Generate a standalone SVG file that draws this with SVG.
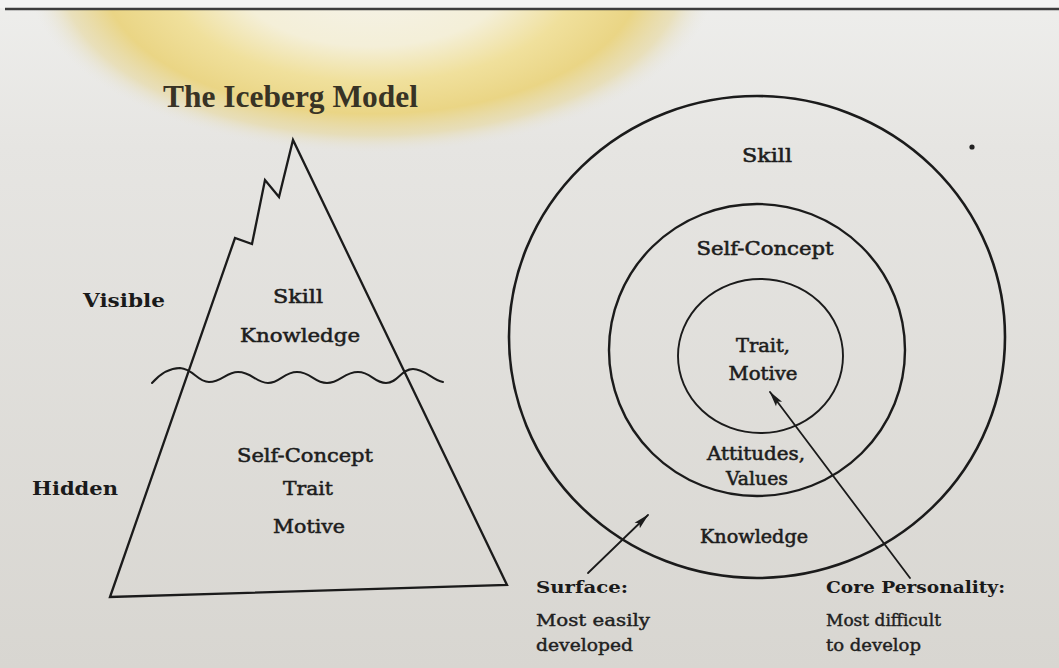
<svg xmlns="http://www.w3.org/2000/svg" width="1059" height="668" viewBox="0 0 1059 668">
<defs>
<linearGradient id="bg" x1="0" y1="0" x2="0" y2="1">
<stop offset="0" stop-color="#eeeeec"/>
<stop offset="0.22" stop-color="#e6e5e2"/>
<stop offset="1" stop-color="#d8d6d1"/>
</linearGradient>
<radialGradient id="glow" cx="0.5" cy="0.5" r="0.5">
<stop offset="0" stop-color="#f5f3ec"/>
<stop offset="0.4" stop-color="#f4efd8"/>
<stop offset="0.6" stop-color="#f0e09c"/>
<stop offset="0.78" stop-color="#ead585"/>
<stop offset="0.9" stop-color="#e7d9a2" stop-opacity="0.65"/>
<stop offset="1" stop-color="#e6e4dc" stop-opacity="0"/>
</radialGradient>
<marker id="ah" markerUnits="userSpaceOnUse" markerWidth="16" markerHeight="10" refX="15" refY="5" orient="auto">
<path d="M0,1.2 L16,5 L0,8.8 L3,5 z" fill="#1b1b1b"/>
</marker>
<style>
.ln{fill:none;stroke:#1b1b1b;stroke-linejoin:miter;stroke-linecap:round}
.t{font-family:"DejaVu Serif","Liberation Serif",serif;fill:#1d1d1d;stroke:#1d1d1d;stroke-width:0.55;text-anchor:middle}
.b{font-family:"DejaVu Serif","Liberation Serif",serif;fill:#1a1a1a;font-weight:bold}
.n{font-family:"DejaVu Serif","Liberation Serif",serif;fill:#202020;stroke:#202020;stroke-width:0.4}
</style>
</defs>
<rect width="1059" height="668" fill="url(#bg)"/>
<ellipse cx="372" cy="-25" rx="345" ry="178" fill="url(#glow)"/>
<rect x="0" y="0" width="1059" height="8" fill="#f3f3f2"/>
<line x1="5" y1="9" x2="1059" y2="9" stroke="#3c3c3c" stroke-width="2.5"/>
<circle cx="972" cy="147" r="2.6" fill="#222"/>

<g id="title">
<text x="163" y="107" font-family="Liberation Serif, serif" font-weight="bold" font-size="31" fill="#383325" textLength="255" lengthAdjust="spacingAndGlyphs">The Iceberg Model</text>
</g>

<g id="iceberg">
<path class="ln" stroke-width="2.3" d="M110,597 L235,238 L252,244 L265,180 L279,197 L293,140 L507,585 Z"/>
<text class="t" x="298" y="303" font-size="19" textLength="50" lengthAdjust="spacingAndGlyphs">Skill</text>
<text class="t" x="300" y="342" font-size="19" textLength="120" lengthAdjust="spacingAndGlyphs">Knowledge</text>
<text class="t" x="305" y="462" font-size="19" textLength="136" lengthAdjust="spacingAndGlyphs">Self-Concept</text>
<text class="t" x="308" y="495" font-size="19" textLength="50" lengthAdjust="spacingAndGlyphs">Trait</text>
<text class="t" x="309" y="533" font-size="19" textLength="72" lengthAdjust="spacingAndGlyphs">Motive</text>
</g>

<g id="waterline">
<path class="ln" stroke-width="2" d="M152,383 C160,374 170,368 180,368 C194,369 197,382 209,382 C222,382 226,372 238,372 C252,372 256,383 268,383 C280,383 284,372 297,372 C311,372 314,383 327,383 C340,383 344,372 358,372 C371,372 374,383 386,383 C398,383 401,369 413,369 C425,369 432,380 443,382"/>
</g>

<g id="visible-label">
<text class="b" x="83" y="307" font-size="18" textLength="82" lengthAdjust="spacingAndGlyphs">Visible</text>
</g>
<g id="hidden-label">
<text class="b" x="32" y="495" font-size="18" textLength="86" lengthAdjust="spacingAndGlyphs">Hidden</text>
</g>

<g id="outer-ring">
<ellipse class="ln" stroke-width="2.6" cx="757" cy="337" rx="248" ry="241"/>
<text class="t" x="767" y="162" font-size="19" textLength="50" lengthAdjust="spacingAndGlyphs" stroke-width="0.9">Skill</text>
<text class="t" x="754" y="543" font-size="18" textLength="108" lengthAdjust="spacingAndGlyphs">Knowledge</text>
</g>

<g id="middle-ring">
<ellipse class="ln" stroke-width="2.4" cx="757" cy="350" rx="148" ry="146"/>
<text class="t" x="765" y="255" font-size="18" textLength="137" lengthAdjust="spacingAndGlyphs">Self-Concept</text>
<text class="t" x="756" y="460" font-size="18" textLength="98" lengthAdjust="spacingAndGlyphs">Attitudes,</text>
<text class="t" x="757" y="485" font-size="18" textLength="62" lengthAdjust="spacingAndGlyphs">Values</text>
</g>

<g id="inner-ring">
<ellipse class="ln" stroke-width="1.9" cx="760.5" cy="356" rx="82.5" ry="77"/>
<text class="t" x="763" y="352" font-size="18" textLength="54" lengthAdjust="spacingAndGlyphs">Trait,</text>
<text class="t" x="763" y="380" font-size="18" textLength="69" lengthAdjust="spacingAndGlyphs">Motive</text>
</g>

<g id="surface-label">
<text class="b" x="536" y="593" font-size="16" textLength="92" lengthAdjust="spacingAndGlyphs">Surface:</text>
<text class="n" x="536" y="626" font-size="16" textLength="114" lengthAdjust="spacingAndGlyphs">Most easily</text>
<text class="n" x="536" y="651" font-size="16" textLength="97" lengthAdjust="spacingAndGlyphs">developed</text>
</g>

<g id="core-label">
<text class="b" x="826" y="593" font-size="16" textLength="179" lengthAdjust="spacingAndGlyphs">Core Personality:</text>
<text class="n" x="826" y="626" font-size="16" textLength="115" lengthAdjust="spacingAndGlyphs">Most difficult</text>
<text class="n" x="826" y="651" font-size="16" textLength="95" lengthAdjust="spacingAndGlyphs">to develop</text>
</g>

<g id="connectors">
<line class="ln" stroke-width="1.8" x1="588" y1="573" x2="648" y2="515" marker-end="url(#ah)"/>
<line class="ln" stroke-width="1.8" x1="910" y1="578" x2="770" y2="392" marker-end="url(#ah)"/>
</g>
</svg>
